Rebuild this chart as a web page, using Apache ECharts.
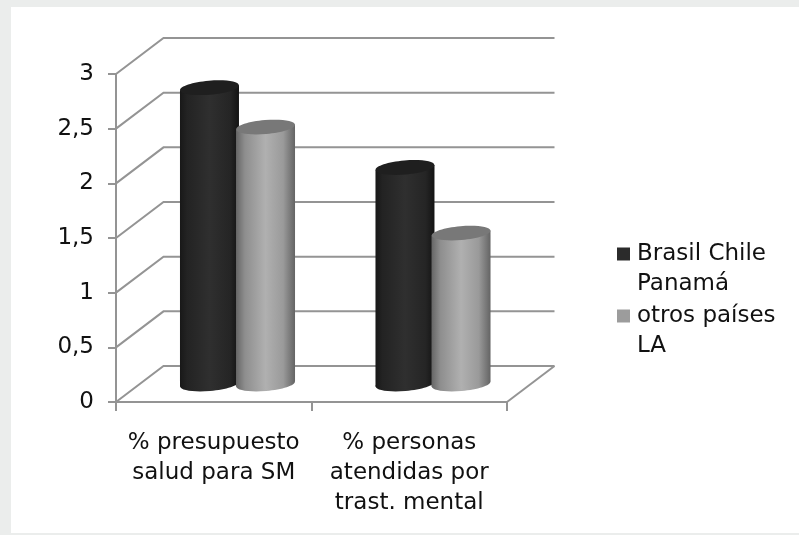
<!DOCTYPE html>
<html><head><meta charset="utf-8">
<style>
html,body{margin:0;padding:0;background:#ebedec;width:799px;height:535px;overflow:hidden}
#panel{position:absolute;left:11px;top:7px;width:788px;height:526px;background:#fff}
#c{position:absolute;left:0;top:0;width:799px;height:535px;filter:blur(0.55px)}
</style>
<script src="https://cdn.jsdelivr.net/npm/echarts@6/dist/echarts.min.js"></script>
</head><body><div id="panel"></div><div id="c"></div>
<script>
const categories = ['% presupuesto\nsalud para SM', '% personas\natendidas por\ntrast. mental'];
const seriesNames = ['Brasil Chile\nPanamá', 'otros países\nLA'];
const brasil = [2.71, 1.98];
const otros = [2.35, 1.38];
const ticks = [0, 0.5, 1, 1.5, 2, 2.5, 3];

const DX = 47.5, DY = -36, RX = 29.5, RY = 7, TILT = 0.085;
const lineCol = '#949494', font = 'DejaVu Sans';
const chart = echarts.init(document.getElementById('c'), null, {renderer:'canvas'});

function grad(stops){
  return {type:'linear',x:0,y:0,x2:1,y2:0,colorStops:stops.map(s=>({offset:s[0],color:s[1]}))};
}
const darkStops = [[0,'#181818'],[0.12,'#232323'],[0.5,'#2f2f2f'],[0.85,'#252525'],[1,'#131313']];
const lightStops = [[0,'#666666'],[0.15,'#8e8e8e'],[0.5,'#b0b0b0'],[0.8,'#9a9a9a'],[1,'#646464']];

function cylinder(sign, stops, topCol){
  return function(params, api){
    const p = api.coord([api.value(0), api.value(1)]);
    const b = api.coord([api.value(0), 0]);
    const cx = p[0] + DX/2 + sign*RX*0.95;
    const yt = p[1] + DY/2, yb = b[1] + DY/2;
    const t = RX*Math.sin(TILT);
    const xl = cx-RX, xr = cx+RX;
    const fill = grad(stops);
    return {type:'group',children:[
      {type:'ellipse',originX:cx,originY:yb,rotation:TILT,shape:{cx:cx,cy:yb,rx:RX,ry:RY},style:{fill:fill}},
      {type:'polygon',shape:{points:[[xl,yt+t],[xr,yt-t],[xr,yb-t],[xl,yb+t]]},style:{fill:fill}},
      {type:'ellipse',originX:cx,originY:yt,rotation:TILT,shape:{cx:cx,cy:yt,rx:RX,ry:RY},style:{fill:topCol}}
    ]};
  };
}

chart.setOption({
  animation:false,
  grid:{left:116,right:292,top:74,bottom:133},
  xAxis:{type:'category',data:categories,boundaryGap:true,
    axisLine:{lineStyle:{color:lineCol,width:2}},
    axisTick:{show:true,length:9,alignWithLabel:false,lineStyle:{color:lineCol,width:2}},
    axisLabel:{color:'#111',fontFamily:font,fontSize:23,lineHeight:30,margin:26,interval:0}},
  yAxis:{type:'value',min:0,max:3,interval:0.5,
    axisLine:{show:true,lineStyle:{color:lineCol,width:2}},
    axisTick:{show:true,length:8,lineStyle:{color:lineCol,width:2}},
    splitLine:{show:false},
    axisLabel:{color:'#111',fontFamily:font,fontSize:23,margin:22,padding:[4,0,0,0],formatter:v=>String(v).replace('.',',')}},
  legend:{orient:'vertical',left:612,top:202,itemWidth:13,itemHeight:13,itemGap:-32,
    icon:'rect',selectedMode:false,
    formatter:n=>'\n'+n,
    textStyle:{color:'#111',fontFamily:font,fontSize:23,lineHeight:30,padding:[4,0,0,2]},
    data:seriesNames},
  series:[
    {type:'custom',name:'walls',silent:true,z:1,data:ticks.map(t=>[0,t]),
     renderItem:function(params,api){
       const r = params.coordSys;
       const y = api.coord([0,api.value(1)])[1];
       const x0 = r.x, x1 = r.x+r.width;
       const kids = [{type:'polyline',shape:{points:[[x0,y],[x0+DX,y+DY],[x1+DX,y+DY]]},style:{stroke:lineCol,lineWidth:2,fill:null}}];
       if(api.value(1)===0) kids.push({type:'line',shape:{x1:x1,y1:y,x2:x1+DX,y2:y+DY},style:{stroke:lineCol,lineWidth:2}});
       return {type:'group',children:kids};
     }},
    {type:'custom',name:seriesNames[0],z:3,itemStyle:{color:'#2b2b2b'},encode:{x:0,y:1},
     data:brasil.map((v,i)=>[i,v]),renderItem:cylinder(-1,darkStops,'#1f1f1f')},
    {type:'custom',name:seriesNames[1],z:4,itemStyle:{color:'#9c9c9c'},encode:{x:0,y:1},
     data:otros.map((v,i)=>[i,v]),renderItem:cylinder(1,lightStops,'#787878')}
  ]
});
</script></body></html>
